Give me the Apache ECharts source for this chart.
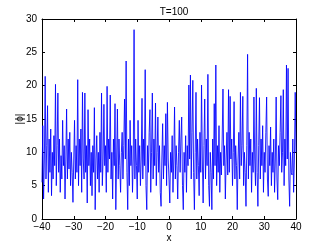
<!DOCTYPE html>
<html>
<head>
<meta charset="utf-8">
<script src="https://cdn.jsdelivr.net/npm/echarts@6/dist/echarts.min.js"></script>
<style>html,body{margin:0;padding:0;background:#fff}#c{width:327px;height:246px}</style>
</head>
<body>
<div id="c"></div>
<script>
const titleText = 'T=100';
const xName = 'x';
const yName = '|ϕ|';
const xStart = -40;
const xStep = 0.25;
const xTicks = [-40, -30, -20, -10, 0, 10, 20, 30, 40];
const yTicks = [0, 5, 10, 15, 20, 25, 30];
const phiAbs = [
  5.5,14,3,9,21.4,6,11,17,4,12,7,13.5,3.5,10,6,12.5,8,20.2,5,11,
  18.9,7,12,4,9.5,6,14.8,8,11,3,9,16.5,6,12,7.5,13,5,10,7,2.5,
  9,14.8,6,11,7,20.9,5,12,8,13.5,4,19,9,6,18.9,7,11,2.4,16.4,8,
  12,5,10,3.5,11,7,16.7,1.4,9,12.5,6,10,4,13,7,18.9,5,9,17.2,8,
  11,4,19.9,7,12,9,18.6,6,10,3,12,8,17.3,1.4,9,16.5,6,12,8,4,
  10,13,6,11,18,9,23.7,7,1.4,12,5,14.8,8,11,4,9,28.4,6,12,8,
  3,14.8,7,11,5,9,18.1,6,12,8,22.4,5,1.4,11,7,13,16.4,4,10,18.9,
  6,12,8,17.4,5,10,15.3,7,11,4,1.9,9,14.3,6,11,8,15.8,5,17.5,9,
  6,2.4,10,7,12.5,4,9,16.8,6,11,8,3,10,14.8,7,12,15.3,5,1.4,10,
  7,12.5,4,11,8,20.1,9,21.6,6,13,20.8,7,1.4,10,19,6,12,8,3.5,13,
  7,20.1,9,2.4,11,18,6,12,8,21.7,5,1.9,10,7,1.4,12,6,17.3,8,23.1,
  5,11,7,14,4,10,6.6,12,19.5,8,11,3,9,13,6.6,19.4,7,18.4,9,12,
  5,10,17.6,6,11,8,1.4,9,13,6,19,8,11,18.4,5,10,7,1.9,11,24.7,
  6,13,8,12,4,10,7,18.3,9,5,19.6,7,1.9,11,18.2,6,12,8,14,4,
  10,7,13,18.3,6,3.4,11,8,13.8,5,10,7,12,4,9,18.3,6,2.9,11,8,
  13,18.5,7,10,19.4,5,12,8,23.1,9,22.6,6,1.9,10,7,6.6,12,4,9,19,10
];
const seriesData = phiAbs.map((v, i) => [xStart + i * xStep, v]);

const font = 'Liberation Sans, Arial, Helvetica, sans-serif';
const fmtMinus = v => String(v).replace('-', '\u2212');
const axisCommon = {
  axisLine: { show: true, onZero: false, lineStyle: { color: '#000', width: 1 } },
  axisTick: { show: true, inside: true, length: 3, lineStyle: { color: '#000', width: 1 } },
  splitLine: { show: false }
};
const chart = echarts.init(document.getElementById('c'), null, { renderer: 'canvas' });
chart.setOption({
  animation: false,
  backgroundColor: '#fff',
  title: {
    text: titleText, left: 169, top: 2, textAlign: 'center',
    textStyle: { fontFamily: font, fontSize: 10, fontWeight: 'normal', color: '#000' }
  },
  grid: { left: 42, right: 31, top: 19, bottom: 27, containLabel: false, outerBoundsMode: 'none' },
  xAxis: [
    Object.assign({
      type: 'value', min: -40, max: 40, interval: 10, position: 'bottom',
      name: xName, nameLocation: 'middle', nameGap: 14, nameMoveOverlap: false,
      nameTextStyle: { fontFamily: font, fontSize: 10, color: '#000' },
      axisLabel: { fontFamily: font, fontSize: 10, color: '#000', margin: 3, formatter: fmtMinus }
    }, axisCommon),
    Object.assign({
      type: 'value', min: -40, max: 40, interval: 10, position: 'top',
      axisLabel: { show: false }
    }, axisCommon)
  ],
  yAxis: [
    Object.assign({
      type: 'value', min: 0, max: 30, interval: 5, position: 'left',
      name: yName, nameLocation: 'middle', nameGap: 17, nameRotate: 90, nameMoveOverlap: false,
      nameTextStyle: { fontFamily: font, fontSize: 10, color: '#000' },
      axisLabel: { fontFamily: font, fontSize: 10, color: '#000', margin: 5 }
    }, axisCommon),
    Object.assign({
      type: 'value', min: 0, max: 30, interval: 5, position: 'right',
      axisLabel: { show: false }
    }, axisCommon)
  ],
  series: [{
    type: 'line', xAxisIndex: 0, yAxisIndex: 0,
    data: seriesData, showSymbol: false, symbol: 'none',
    lineStyle: { color: '#0000ff', width: 0.9, opacity: 0.95 },
    silent: true
  }]
});
</script>
</body>
</html>
